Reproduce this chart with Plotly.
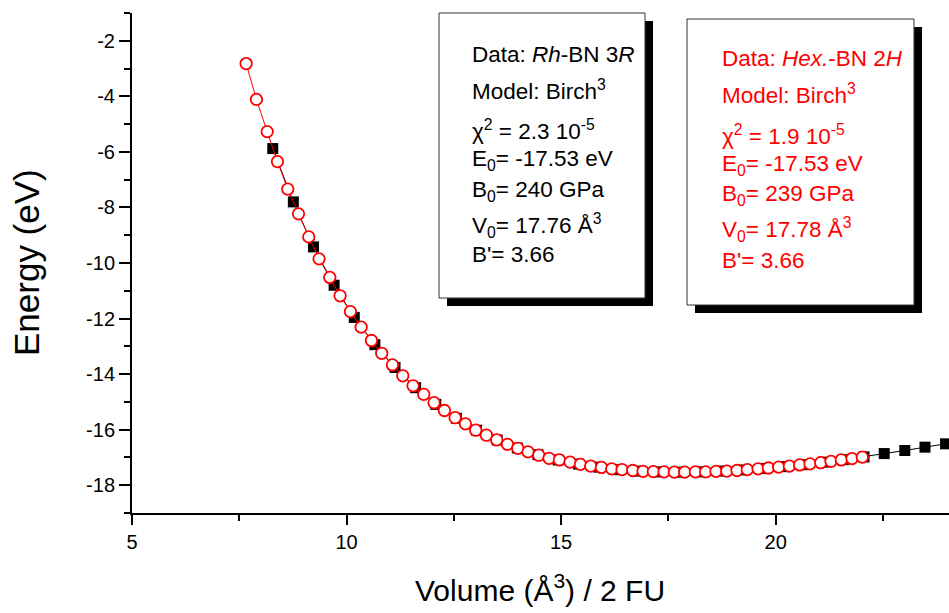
import plotly.graph_objects as go

# ---------------- data ----------------
hex_volume = [7.66, 7.90, 8.15, 8.39, 8.63, 8.88, 9.12, 9.36, 9.61, 9.85,
              10.09, 10.34, 10.58, 10.82, 11.07, 11.31, 11.55, 11.80, 12.04, 12.28,
              12.53, 12.77, 13.01, 13.26, 13.50, 13.75, 13.99, 14.23, 14.48, 14.72,
              14.96, 15.21, 15.45, 15.69, 15.94, 16.18, 16.42, 16.67, 16.91, 17.15,
              17.40, 17.64, 17.88, 18.13, 18.37, 18.61, 18.86, 19.10, 19.34, 19.59,
              19.83, 20.07, 20.32, 20.56, 20.80, 21.05, 21.29, 21.53, 21.78, 22.02]
hex_energy = [-2.82, -4.11, -5.27, -6.35, -7.34, -8.23, -9.06, -9.85, -10.52, -11.18,
              -11.75, -12.31, -12.79, -13.25, -13.67, -14.06, -14.42, -14.73, -15.03, -15.31,
              -15.57, -15.79, -16.02, -16.20, -16.37, -16.53, -16.67, -16.80, -16.92, -17.03,
              -17.09, -17.17, -17.25, -17.31, -17.36, -17.41, -17.44, -17.47, -17.50, -17.51,
              -17.52, -17.53, -17.53, -17.52, -17.52, -17.50, -17.49, -17.47, -17.44, -17.41,
              -17.38, -17.35, -17.31, -17.27, -17.23, -17.19, -17.14, -17.09, -17.04, -16.99]

rh_volume = [8.28, 8.76, 9.23, 9.71, 10.18, 10.66, 11.13, 11.61, 12.08, 12.56,
             13.03, 13.51, 13.98, 14.46, 14.93, 15.41, 15.88, 16.36, 16.83, 17.31,
             17.78, 18.26, 18.73, 19.21, 19.68, 20.16, 20.63, 21.11, 21.58, 22.06,
             22.53, 23.01, 23.48, 23.96]
rh_energy = [-5.88, -7.80, -9.42, -10.80, -11.96, -12.94, -13.76, -14.49, -15.09, -15.59,
             -16.02, -16.37, -16.66, -16.90, -17.09, -17.24, -17.35, -17.44, -17.49, -17.52,
             -17.53, -17.52, -17.49, -17.45, -17.40, -17.33, -17.26, -17.17, -17.08, -16.98,
             -16.86, -16.75, -16.63, -16.51]

x_ticks = [5, 10, 15, 20]
x_tick_labels = ["5", "10", "15", "20"]
y_ticks = [-18, -16, -14, -12, -10, -8, -6, -4, -2]
y_tick_labels = ["-18", "-16", "-14", "-12", "-10", "-8", "-6", "-4", "-2"]

box_rh_lines = ["Data: <i>Rh</i>-BN 3<i>R</i>", "Model: Birch<sup>3</sup>",
                "χ<sup>2</sup> = 2.3 10<sup>-5</sup>", "E<sub>0</sub>= -17.53 eV",
                "B<sub>0</sub>= 240 GPa", "V<sub>0</sub>= 17.76 Å<sup>3</sup>", "B'= 3.66"]
box_hex_lines = ["Data: <i>Hex.</i>-BN 2<i>H</i>", "Model: Birch<sup>3</sup>",
                 "χ<sup>2</sup> = 1.9 10<sup>-5</sup>", "E<sub>0</sub>= -17.53 eV",
                 "B<sub>0</sub>= 239 GPa", "V<sub>0</sub>= 17.78 Å<sup>3</sup>", "B'= 3.66"]

FONT = "Arial, Liberation Sans, sans-serif"

# plot area in pixels
L, R, T, B = 132, 949, 13, 513
W, H = 949, 613


def px(x):
    return (x - L) / (R - L)


def py(y):
    return (B - y) / (B - T)


fig = go.Figure()
fig.add_trace(go.Scatter(
    x=rh_volume, y=rh_energy, mode="lines+markers", name="Rh-BN 3R",
    line=dict(color="black", width=1),
    marker=dict(symbol="square", size=11, color="black", line=dict(width=0)),
    showlegend=False))
fig.add_trace(go.Scatter(
    x=hex_volume, y=hex_energy, mode="lines+markers", name="Hex.-BN 2H",
    line=dict(color="red", width=1),
    marker=dict(symbol="circle", size=11.5, color="white", line=dict(color="red", width=1.8)),
    showlegend=False))

shapes = []
annotations = []


def add_box(x0, y0, x1, y1, lines, ys, tx, color):
    shapes.append(dict(type="rect", xref="paper", yref="paper",
                       x0=px(x0 + 8), x1=px(x1 + 8), y0=py(y1 + 8), y1=py(y0 + 8),
                       fillcolor="black", line=dict(width=0), layer="above"))
    shapes.append(dict(type="rect", xref="paper", yref="paper",
                       x0=px(x0), x1=px(x1), y0=py(y1), y1=py(y0),
                       fillcolor="white", line=dict(color="#333333", width=1), layer="above"))
    for text, yc in zip(lines, ys):
        annotations.append(dict(text=text, xref="paper", yref="paper",
                                x=px(tx), y=py(yc), xanchor="left", yanchor="middle",
                                showarrow=False, font=dict(family=FONT, size=22.5, color=color)))


add_box(439, 13, 645, 298, box_rh_lines, [55, 90, 130, 159.5, 191, 225, 254], 470, "black")
add_box(687, 19, 914, 305, box_hex_lines, [59, 94, 135, 165, 195, 229.5, 260], 720, "red")

annotations.append(dict(text="Energy (eV)", xref="paper", yref="paper",
                        x=px(26), y=py(262), xanchor="center", yanchor="middle",
                        textangle=-90, showarrow=False,
                        font=dict(family=FONT, size=35, color="black")))
annotations.append(dict(text="Volume (Å<sup>3</sup>) / 2 FU", xref="paper", yref="paper",
                        x=px(540), y=py(588), xanchor="center", yanchor="middle",
                        showarrow=False, font=dict(family=FONT, size=30, color="black")))

fig.update_layout(
    width=W, height=H,
    margin=dict(l=L, r=W - R, t=T, b=H - B, pad=0, autoexpand=False),
    paper_bgcolor="white", plot_bgcolor="white",
    font=dict(family=FONT, color="black"),
    shapes=shapes, annotations=annotations,
    xaxis=dict(range=[5, 24.04], tickvals=x_ticks, ticktext=x_tick_labels,
               showgrid=False, zeroline=False, automargin=False,
               showline=True, linecolor="black", linewidth=2,
               ticks="outside", ticklen=10, tickwidth=2, tickcolor="black",
               tickfont=dict(family=FONT, size=20, color="black"),
               minor=dict(dtick=2.5, tick0=5, ticks="outside", ticklen=6, tickwidth=2,
                          tickcolor="black", showgrid=False)),
    yaxis=dict(range=[-19, -1], tickvals=y_ticks, ticktext=y_tick_labels,
               showgrid=False, zeroline=False, automargin=False,
               showline=True, linecolor="black", linewidth=2,
               ticks="outside", ticklen=11, tickwidth=2, tickcolor="black",
               tickfont=dict(family=FONT, size=20, color="black"),
               minor=dict(dtick=1, tick0=-19, ticks="outside", ticklen=6, tickwidth=2,
                          tickcolor="black", showgrid=False)),
)

fig.write_html("out.html", config={"displayModeBar": False},
               post_script="document.body.style.margin='0';document.body.style.overflow='hidden';")
